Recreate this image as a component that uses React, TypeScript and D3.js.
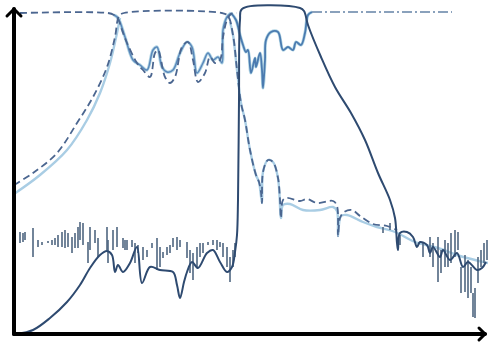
import { useEffect, useRef } from "react";
import * as d3 from "d3";

// frequency (GHz) and loss (dB, positive = lower on the chart)
const band1ThruDashed: [number, number][] = [
  [0.0, 43.25], [0.19, 40.25], [0.43, 35.25], [0.63, 27.75], [0.79, 21.25],
  [0.93, 13.75], [1.01, 6.25], [1.05, 1.0], [1.1, 0.25], [2.08, 0.25],
  [2.14, 1.0], [2.19, 5.75], [2.23, 14.5], [2.27, 22.75], [2.31, 27],
  [2.36, 34.5], [2.42, 40.75], [2.45, 42.5], [2.47, 45], [2.48, 47.75],
  [2.49, 40], [2.54, 37], [2.59, 37.5], [2.64, 41.5], [2.66, 47],
  [2.67, 51.5], [2.69, 47], [2.73, 46.5], [2.86, 47.25], [2.93, 46.75],
  [3.03, 47.75], [3.19, 47.25], [3.23, 48.5], [3.24, 56], [3.26, 51.5],
  [3.3, 50], [3.38, 49.5], [3.46, 51], [3.59, 53], [3.73, 53.5], [3.83, 54.5],
];

// light trace, lower skirt and upper skirt
const band1ThruLightLow: [number, number][] = [
  [0.0, 45.5], [0.26, 40.75], [0.53, 34.5], [0.73, 27], [0.86, 20.25],
  [0.96, 12.75], [1.03, 5.25], [1.06, 1.5],
];

const band1ThruLightHigh: [number, number][] = [
  [2.16, 2.5], [2.19, 5.75], [2.23, 14.5], [2.27, 22.75], [2.31, 27],
  [2.36, 34.5], [2.42, 40.75], [2.45, 42.5], [2.48, 47.75], [2.49, 40],
  [2.54, 37], [2.59, 37.5], [2.64, 41.5], [2.67, 51.5], [2.69, 48.25],
  [2.76, 48], [2.89, 49.5], [3.06, 49.5], [3.19, 48.75], [3.23, 49.75],
  [3.24, 56], [3.27, 51], [3.33, 50.75], [3.49, 52.5], [3.63, 53.75],
  [3.81, 55], [4.01, 57.5], [4.24, 59], [4.46, 61], [4.74, 62.75],
];

const band1ReflDashed: [number, number][] = [
  [0.06, 0.25], [0.94, 0.25], [1.0, 0.75], [1.04, 1.75], [1.08, 4.5],
  [1.13, 7.75], [1.23, 12.75], [1.29, 14.5], [1.36, 16.25], [1.41, 10.25],
  [1.44, 9.5], [1.51, 16.25], [1.56, 17.75], [1.61, 16.25], [1.68, 8.75],
  [1.74, 7.5], [1.79, 12], [1.84, 17.5], [1.91, 15.25], [1.96, 11.25],
  [2.01, 12.75], [2.06, 12], [2.09, 6.25], [2.13, 2], [2.17, 0.5], [2.23, 0.25],
];

const band1Refl: [number, number][] = [
  [1.0, 0.75], [1.04, 1.5], [1.11, 6.25], [1.19, 12], [1.26, 13.25],
  [1.33, 14.5], [1.39, 9.5], [1.43, 8.75], [1.48, 13.75], [1.53, 15],
  [1.59, 14.5], [1.66, 10.25], [1.73, 7.5], [1.78, 8.75], [1.83, 15.25],
  [1.89, 12.75], [1.94, 10.25], [1.99, 12], [2.04, 11.25], [2.08, 12.75],
  [2.09, 4.5], [2.13, 1.25], [2.17, 0.25],
];

const band2Refl: [number, number][] = [
  [2.17, 0.25], [2.22, 2], [2.26, 5.75], [2.29, 8.25], [2.32, 10],
  [2.34, 9.5], [2.37, 15.25], [2.41, 11.5], [2.42, 13.75], [2.46, 10.25],
  [2.48, 14.5], [2.49, 19], [2.51, 12], [2.52, 7], [2.57, 5], [2.64, 5],
  [2.69, 9.5], [2.74, 8.75], [2.79, 9.5], [2.82, 7.5], [2.87, 8.25],
  [2.91, 5.25], [2.94, 0.75], [2.98, 0],
];

const band2ReflTail: [number, number][] = [[2.98, 0], [4.38, 0]];

const band2Thru: [number, number][] = [
  [0.03, 80.5], [0.19, 79.5], [0.36, 76.5], [0.53, 72.5], [0.66, 68.25],
  [0.76, 64], [0.86, 60.75], [0.93, 59.75], [0.98, 60.75], [1.01, 65],
  [1.04, 63.25], [1.09, 65], [1.16, 62.75], [1.23, 58.75], [1.28, 67.75],
  [1.36, 63.75], [1.46, 64.5], [1.59, 65], [1.63, 68.25], [1.66, 71.5],
  [1.7, 67.5], [1.73, 65], [1.78, 62.5], [1.84, 64], [1.93, 60.25],
  [1.99, 59.5], [2.06, 62.5], [2.13, 65], [2.18, 63.75], [2.21, 60],
  [2.23, 55.75], [2.24, 47], [2.25, 22], [2.26, 2], [2.28, -0.75],
  [2.86, -1], [2.9, -0.25], [2.94, 3.25], [3.07, 11.25], [3.21, 18.75],
  [3.37, 25.25], [3.51, 32], [3.64, 40.25], [3.76, 47], [3.81, 51.5],
  [3.83, 57.75], [3.84, 59.5], [3.86, 55.25], [3.93, 55], [3.99, 56.25],
  [4.03, 58.75], [4.06, 57.5], [4.13, 58.25], [4.16, 60.25], [4.19, 58.75],
  [4.26, 61.25], [4.29, 59.5], [4.36, 62], [4.43, 60.25], [4.49, 63.75],
  [4.54, 62.5], [4.63, 64.5], [4.68, 64], [4.72, 62.5],
];

// measurement noise: [frequency, top loss, bottom loss]
const noiseBars: [number, number, number][] = [
  [0.06, 55, 57.75], [0.09, 55.25, 57.5], [0.11, 55, 57], [0.19, 54, 61.25],
  [0.24, 57, 58.75], [0.28, 57.5, 58.25], [0.34, 57.25, 57.75], [0.38, 57, 58.25],
  [0.41, 56.5, 58.25], [0.44, 55.75, 58.75], [0.48, 55, 58.75], [0.51, 54.5, 59],
  [0.54, 55.25, 58.75], [0.58, 56.25, 60.25], [0.61, 55.25, 59], [0.64, 53.75, 59],
  [0.66, 52.5, 57], [0.69, 52.75, 58.25], [0.74, 57.5, 62.75], [0.76, 53.75, 59.5],
  [0.81, 54.5, 57.75], [0.84, 56.5, 61.25], [0.93, 53.75, 59.5], [0.94, 57, 62.75],
  [0.99, 54.5, 59.5], [1.03, 53.75, 58.75], [1.09, 56.5, 59], [1.11, 57, 59.5],
  [1.13, 57, 59.5], [1.18, 57, 58.75], [1.21, 57.75, 62.75], [1.24, 58.25, 60.25],
  [1.29, 58.75, 62], [1.33, 59.5, 61.25], [1.38, 57.75, 59], [1.43, 56.5, 64.5],
  [1.46, 58.75, 63.75], [1.49, 60, 61.5], [1.53, 58.75, 60.75], [1.56, 58.25, 60.25],
  [1.59, 56.5, 58.75], [1.63, 56.25, 59.5], [1.66, 57, 58.75], [1.73, 57.5, 61.5],
  [1.76, 59.5, 65.25], [1.79, 60.25, 67], [1.83, 58.75, 63.75], [1.86, 57.75, 61.25],
  [1.89, 57.75, 60.25], [1.94, 57.5, 58.25], [1.99, 57, 58.25], [2.03, 57, 59.5],
  [2.06, 57.5, 58.75], [2.09, 57.75, 61.25], [2.13, 58.75, 63.75], [2.16, 61.25, 67.5],
  [2.19, 59.5, 63.75], [2.21, 57.75, 61.25],
  [3.69, 53.75, 55.25], [3.76, 52.75, 54.5], [3.86, 55.75, 58.25], [4.09, 57.75, 61.25],
  [4.16, 56.25, 61.25], [4.19, 57.75, 63.75], [4.24, 56.25, 67.5], [4.27, 59.5, 65.25],
  [4.31, 57, 63.75], [4.34, 57.75, 63.75], [4.37, 55.25, 62.75], [4.41, 54.5, 61.25],
  [4.44, 55, 59.5], [4.47, 63.75, 70.25], [4.51, 60.75, 70], [4.54, 62, 71.5],
  [4.57, 63.75, 70.25], [4.59, 70.25, 76.25], [4.61, 69, 76.5], [4.64, 61.25, 67.75],
  [4.67, 59.5, 63.75], [4.7, 57.75, 62.75], [4.73, 57, 62],
];

export default function App() {
  const ref = useRef<SVGSVGElement>(null);

  useEffect(() => {
    if (!ref.current) return;
    const svg = d3.select(ref.current);
    svg.selectAll("*").remove();

    const x = d3.scaleLinear().domain([0, 4.74]).range([14, 488]);
    const y = d3.scaleLinear().domain([0, 80]).range([12, 332]);

    const line = d3
      .line<[number, number]>()
      .curve(d3.curveCatmullRom.alpha(0.5))
      .x((d) => x(d[0]))
      .y((d) => y(d[1]));

    const draw = (data: [number, number][], color: string, width: number, dash?: string) => {
      const p = svg
        .append("path")
        .datum(data)
        .attr("fill", "none")
        .attr("stroke", color)
        .attr("stroke-width", width)
        .attr("stroke-linejoin", "round")
        .attr("d", line);
      if (dash) p.attr("stroke-dasharray", dash);
    };

    // light halos first
    draw(band1ThruLightLow, "#a9cde4", 2.4);
    draw(band1ThruLightHigh, "#a9cde4", 2.4);
    draw(band1Refl, "#b2d5e4", 3.2);
    draw(band2Refl, "#b2d5e4", 3.2);

    // noise bars
    svg
      .append("g")
      .selectAll("line")
      .data(noiseBars)
      .enter()
      .append("line")
      .attr("x1", (d) => x(d[0]))
      .attr("x2", (d) => x(d[0]))
      .attr("y1", (d) => y(d[1]))
      .attr("y2", (d) => y(d[2]))
      .attr("stroke", "#4f6680")
      .attr("stroke-width", 1.6);

    draw(band1Refl, "#5a88bb", 1.5);
    draw(band2Refl, "#4b7bb0", 1.8);
    draw(band1ThruDashed, "#4b6690", 1.8, "7,4");
    draw(band1ReflDashed, "#4b6690", 1.8, "7,4");
    draw(band2ReflTail, "#6482a6", 1.6, "10,3,2,3");
    draw(band2Thru, "#2e4a70", 2);

    // axes with arrow heads
    const x0 = x(0);
    const yB = y(80.5);
    const axes = svg.append("g").attr("stroke", "#000").attr("fill", "none").attr("stroke-linecap", "round");
    axes.append("line").attr("x1", x0).attr("x2", x0).attr("y1", yB).attr("y2", 9).attr("stroke-width", 4);
    axes.append("line").attr("x1", x0).attr("x2", 485).attr("y1", yB).attr("y2", yB).attr("stroke-width", 4);
    axes.append("path").attr("d", `M${x0 - 7},16 L${x0},9 L${x0 + 7},16`).attr("stroke-width", 3);
    axes.append("path").attr("d", `M479,${yB - 6} L485,${yB} L479,${yB + 6}`).attr("stroke-width", 3);
  }, []);

  return (
    <svg
      ref={ref}
      width={488}
      height={349}
      style={{ position: "absolute", left: 0, top: 0, background: "#fff" }}
    />
  );
}
